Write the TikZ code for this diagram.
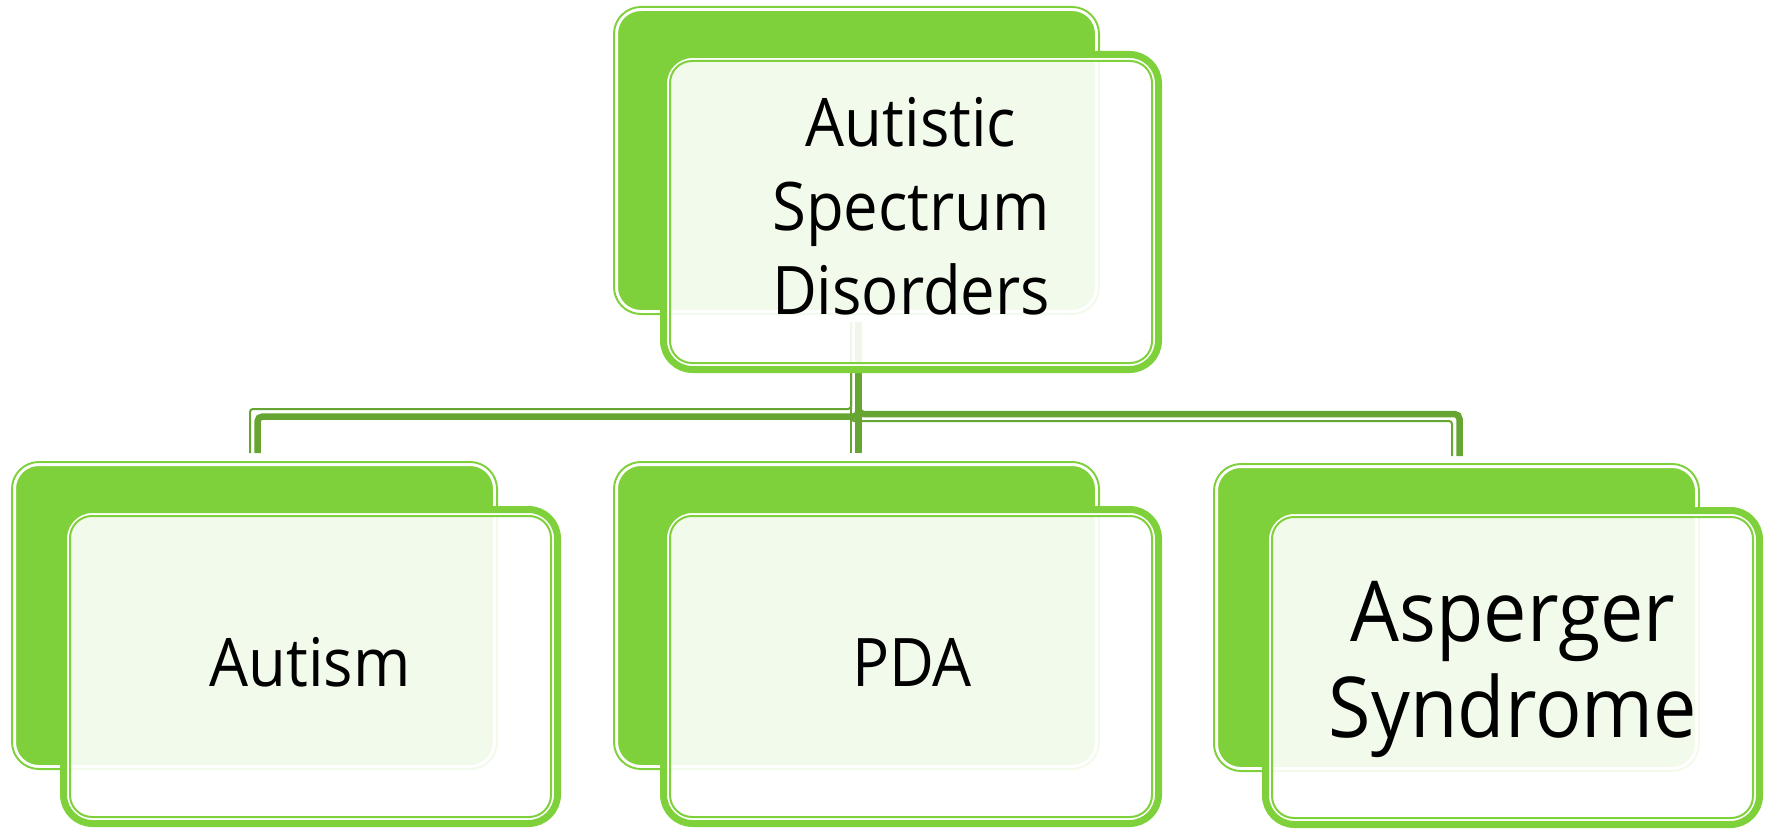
\documentclass[tikz,border=0pt]{standalone}
\usepackage{fontspec}
\setmainfont{Open Sans}[FakeStretch=0.92]
\definecolor{lgreen}{HTML}{7FD13B}
\definecolor{dgreen}{HTML}{66A531}
\tikzset{
  backline/.style={draw=lgreen, line width=2pt, rounded corners=27pt},
  backfill/.style={fill=lgreen, draw=white, line width=2.5pt, rounded corners=24pt},
  frontfill/.style={fill=white, fill opacity=0.9, rounded corners=24pt},
  frontgap/.style={draw=white, line width=2.5pt, rounded corners=24pt},
  frontthick/.style={draw=lgreen, line width=7pt, rounded corners=29pt},
  frontthin/.style={draw=lgreen, line width=2pt, rounded corners=22pt},
  conthick/.style={draw=dgreen, line width=6.5pt, rounded corners=5pt},
  conthin/.style={draw=dgreen, line width=2pt, rounded corners=3pt},
  lbl/.style={inner sep=0pt, align=center, text=black, font=\fontsize{67}{84}\selectfont},
  biglbl/.style={inner sep=0pt, align=center, text=black, font=\fontsize{84}{96}\selectfont}
}
\newcommand\bkbox[4]{%
  \path[backline] (#1+1,#2+1) rectangle (#3-1,#4-1);
  \path[backfill] (#1+3.75,#2+3.75) rectangle (#3-3.75,#4-3.75);
}
\newcommand\frbox[4]{%
  \path[frontfill] (#1+6,#2+6) rectangle (#3-6,#4-6);
  \path[frontgap] (#1+7.75,#2+7.75) rectangle (#3-7.75,#4-7.75);
  \path[frontthick] (#1+3.5,#2+3.5) rectangle (#3-3.5,#4-3.5);
  \path[frontthin] (#1+10,#2+10) rectangle (#3-10,#4-10);
}
\begin{document}
\begin{tikzpicture}[x=1pt,y=-1pt]
\useasboundingbox (0,0) rectangle (1770,829);
% back boxes
\bkbox{613}{6}{1100}{315}
\bkbox{11}{461}{498}{770}
\bkbox{613}{461}{1100}{770}
\bkbox{1213}{463}{1700}{772}
% connector end points
\coordinate (srcA) at (858.5,322);
\coordinate (srcB) at (851,322);
\coordinate (lA) at (257.5,453);
\coordinate (lB) at (250,453);
\coordinate (mA) at (858.5,453);
\coordinate (mB) at (851,453);
\coordinate (rA) at (1459.5,456);
\coordinate (rB) at (1452,456);
% connectors
\draw[conthin] (srcB) |- (250,409) -- (lB);
\draw[conthin] (srcB) -- (mB);
\draw[conthin] (srcB) |- (1452,421) -- (rB);
\draw[conthick] (srcA) |- (257.5,416.5) -- (lA);
\draw[conthick] (srcA) -- (mA);
\draw[conthick] (srcA) |- (1459.5,414) -- (rA);
% front boxes
\frbox{660}{51}{1162}{373}
\frbox{60}{506}{561}{827}
\frbox{660}{506}{1162}{827}
\frbox{1262}{507}{1763}{828}
% labels
\node[lbl] (asd) at (911,206.5) {Autistic\\Spectrum\\Disorders};
\node[lbl, anchor=base] (autism) at (310,686) {Autism};
\node[lbl, anchor=base] (pda) at (912,686) {PDA};
\node[biglbl] (asperger) at (1513,669) {Asperger\\Syndrome};
\end{tikzpicture}
\end{document}
